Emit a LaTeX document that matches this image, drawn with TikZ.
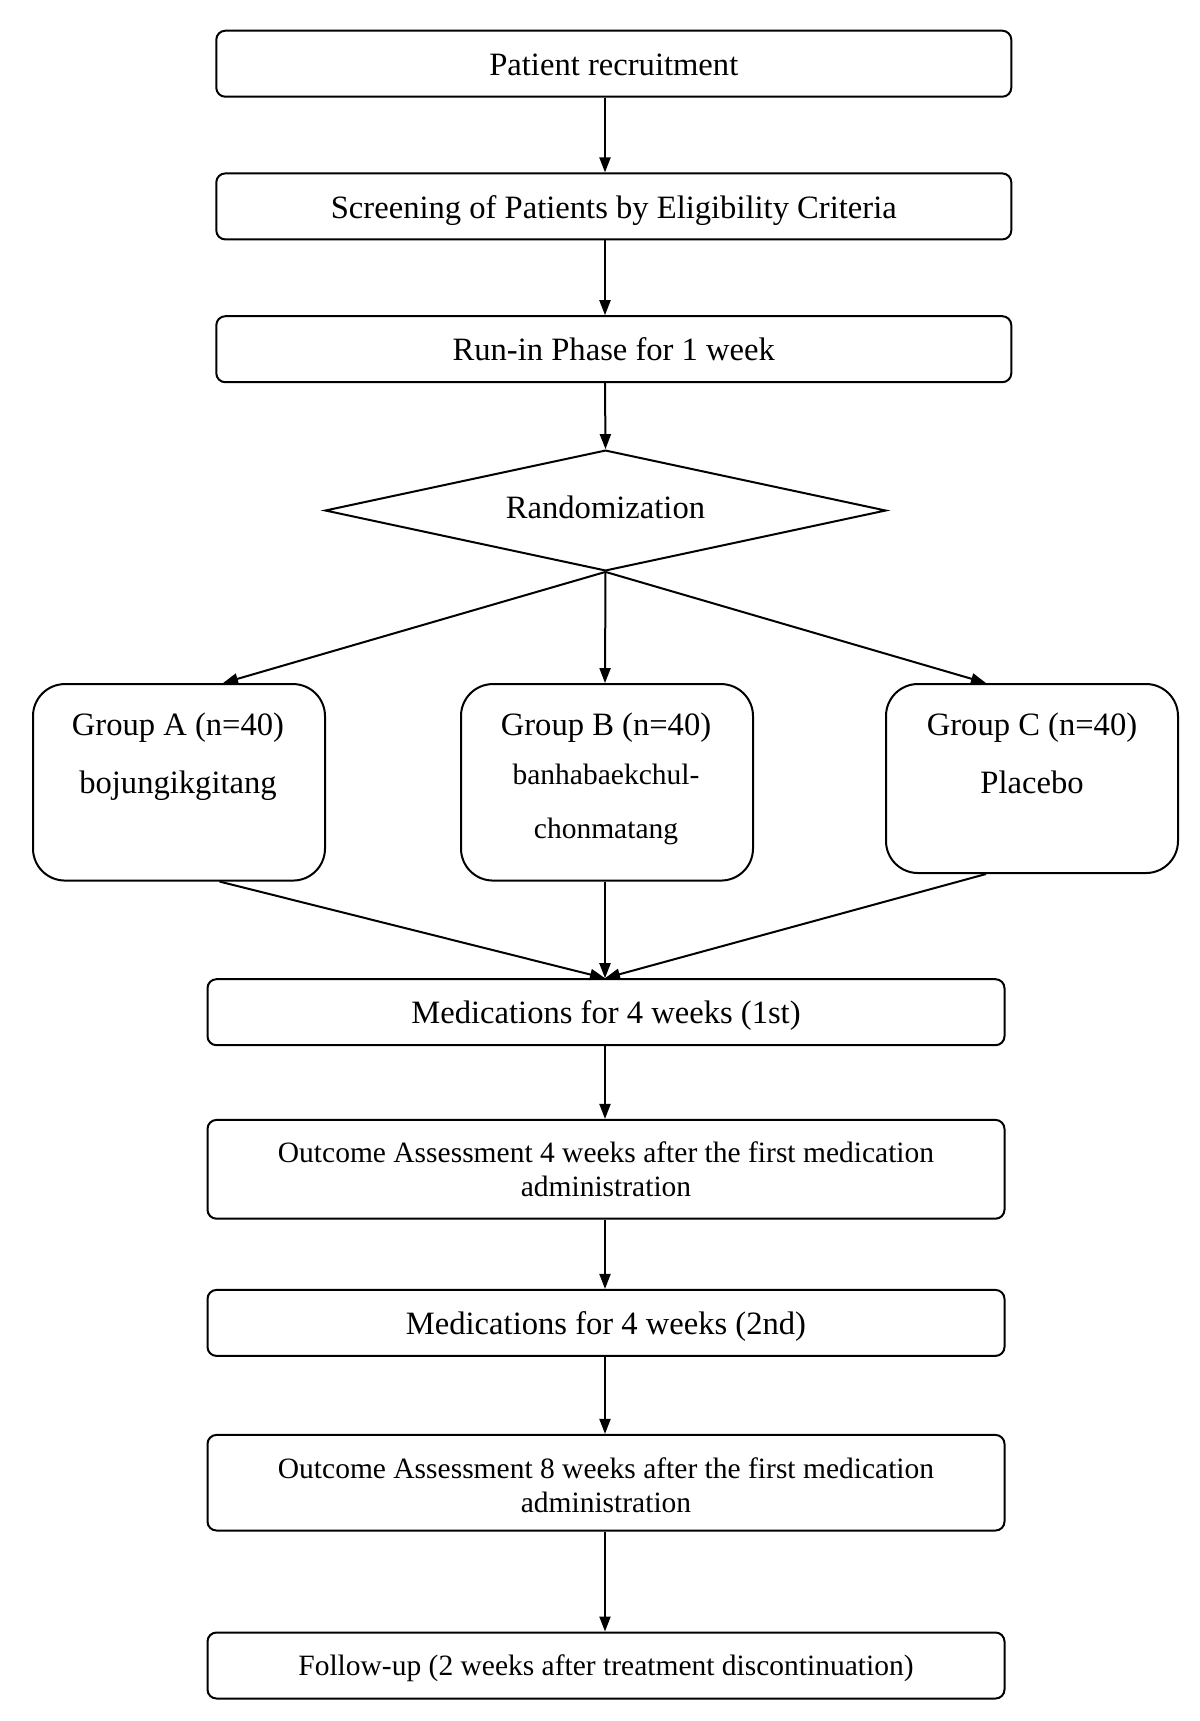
\documentclass[tikz,border=0pt]{standalone}
\usepackage{fontspec}
\setmainfont{Liberation Serif}
\usetikzlibrary{arrows.meta,shapes.geometric}
\begin{document}
\begin{tikzpicture}[x=0.5pt,y=-0.5pt,line width=1pt,
  mainfont/.style={font=\fontsize{16.3}{19}\selectfont,text height=11.6pt,text depth=0pt},
  smallfont/.style={font=\fontsize{14.75}{17}\selectfont,text height=9.6pt,text depth=0pt},
  twolines/.style={font=\fontsize{14.75}{17}\selectfont,align=center,inner sep=0pt},
  topbox/.style={draw,rounded corners=4.5pt,minimum width=397.5pt,minimum height=33pt,inner sep=0pt,mainfont},
  lowbox/.style={draw,rounded corners=4.5pt,minimum width=398.5pt,minimum height=33pt,inner sep=0pt,mainfont},
  grpbox/.style={draw,rounded corners=16pt,minimum width=146pt,minimum height=98.25pt,inner sep=0pt},
  txt/.style={inner sep=0pt,anchor=center},
  arr/.style={-{Triangle[length=7.5pt,width=5.5pt]}}]
\useasboundingbox (0,0) rectangle (1200,1721);
\coordinate (ax) at (605,0);
\coordinate (xA) at (223,0);
\coordinate (xC) at (986,0);
\coordinate (xAb) at (219.6,0);
\coordinate (xCb) at (986,0);

\node[topbox] (b1) at (613.8,63.7) {Patient recruitment};
\node[topbox] (b2) at (613.8,206.4) {Screening of Patients by Eligibility Criteria};
\node[topbox] (b3) at (613.8,349.2) {Run-in Phase for 1 week};
\node[draw,diamond,shape aspect=4.64,minimum width=280.5pt,minimum height=60.4pt,inner sep=0pt] (d) at (605.5,510.5) {};
\node[txt,mainfont] (dt) at (605.5,507) {Randomization};

\node[grpbox] (gA) at (179,782.3) {};
\node[grpbox] (gB) at (607,782.3) {};
\node[grpbox,minimum height=94.5pt] (gC) at (1032,778.5) {};
\node[txt,mainfont] (gA1) at (178,723.5) {Group A (n=40)};
\node[txt,mainfont] (gA2) at (178,781.7) {bojungikgitang};
\node[txt,mainfont] (gB1) at (606,723.5) {Group B (n=40)};
\node[txt,smallfont] (gB2) at (606,775) {banhabaekchul-};
\node[txt,smallfont] (gB3) at (606,829) {chonmatang};
\node[txt,mainfont] (gC1) at (1032,723.5) {Group C (n=40)};
\node[txt,mainfont] (gC2) at (1032,781.7) {Placebo};

\node[lowbox] (m1) at (606,1012.2) {Medications for 4 weeks (1st)};
\node[lowbox,minimum height=49.4pt] (o1) at (606,1169.3) {};
\node[twolines] (o1t) at (606,1169.3) {Outcome Assessment 4 weeks after the first medication\\administration};
\node[lowbox] (m2) at (606,1322.9) {Medications for 4 weeks (2nd)};
\node[lowbox,minimum height=47.8pt] (o2) at (606,1482.7) {};
\node[twolines] (o2t) at (606,1484.8) {Outcome Assessment 8 weeks after the first medication\\administration};
\node[lowbox,smallfont] (fu) at (606,1665.5) {Follow-up (2 weeks after treatment discontinuation)};

\draw[arr] (b1.south -| ax) -- (b2.north -| ax);
\draw[arr] (b2.south -| ax) -- (b3.north -| ax);
\draw[arr] (b3.south -| ax) -- (d.north);
\draw[arr] (d.south) -- (gA.north -| xA);
\draw[arr] (d.south) -- (gB.north -| ax);
\draw[arr] (d.south) -- (gC.north -| xC);
\draw[arr] (gA.south -| xAb) -- (m1.north -| ax);
\draw[arr] (gB.south -| ax) -- (m1.north -| ax);
\draw[arr] (gC.south -| xCb) -- (m1.north -| ax);
\draw[arr] (m1.south -| ax) -- (o1.north -| ax);
\draw[arr] (o1.south -| ax) -- (m2.north -| ax);
\draw[arr] (m2.south -| ax) -- (o2.north -| ax);
\draw[arr] (o2.south -| ax) -- (fu.north -| ax);
\end{tikzpicture}
\end{document}
